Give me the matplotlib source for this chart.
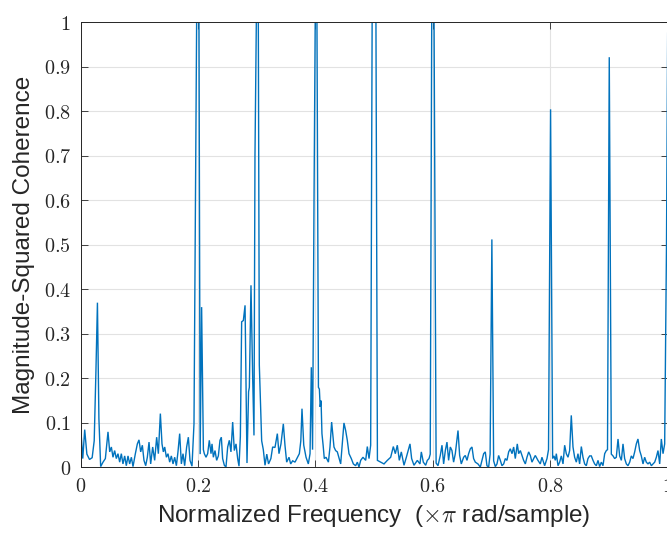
import matplotlib
matplotlib.use('Agg')
import matplotlib.pyplot as plt

# Frequency (x pi rad/sample) and magnitude-squared coherence
freq = [
    0.0000, 0.0035, 0.0068, 0.0105, 0.0150, 0.0195, 0.0230, 0.0260, 0.0285, 0.0310,
    0.0340, 0.0380, 0.0420, 0.0465, 0.0494, 0.0522, 0.0550, 0.0578, 0.0607, 0.0635,
    0.0664, 0.0692, 0.0720, 0.0749, 0.0777, 0.0806, 0.0834, 0.0863, 0.0891, 0.0931,
    0.0965, 0.0993, 0.1022, 0.1050, 0.1078, 0.1107, 0.1135, 0.1164, 0.1192, 0.1226,
    0.1260, 0.1294, 0.1323, 0.1357, 0.1385, 0.1408, 0.1431, 0.1460, 0.1487, 0.1516,
    0.1544, 0.1573, 0.1601, 0.1630, 0.1657, 0.1686, 0.1715, 0.1743, 0.1771, 0.1805,
    0.1834, 0.1862, 0.1896, 0.1930, 0.1975, 0.2015, 0.2035, 0.2060, 0.2090,
    0.2106, 0.2135, 0.2163, 0.2191, 0.2220, 0.2237, 0.2260, 0.2288, 0.2316, 0.2345,
    0.2373, 0.2396, 0.2418, 0.2447, 0.2475, 0.2504, 0.2532, 0.2560, 0.2589, 0.2617,
    0.2646, 0.2674, 0.2697, 0.2720, 0.2742, 0.2771, 0.2800, 0.2833, 0.2860, 0.2873,
    0.2901, 0.2930, 0.2952, 0.2969, 0.2992, 0.3026, 0.3043, 0.3083, 0.3111, 0.3140,
    0.3170, 0.3200, 0.3240, 0.3270, 0.3310, 0.3350, 0.3378, 0.3412, 0.3452, 0.3480,
    0.3509, 0.3549, 0.3577, 0.3611, 0.3651, 0.3679, 0.3725, 0.3750, 0.3770, 0.3800,
    0.3839, 0.3878, 0.3907, 0.3929, 0.3950, 0.3975, 0.3995, 0.4025, 0.4050, 0.4066,
    0.4080, 0.4095, 0.4110, 0.4130, 0.4150, 0.4180, 0.4220, 0.4247, 0.4275, 0.4315,
    0.4343, 0.4372, 0.4429, 0.4485, 0.4514, 0.4542, 0.4571, 0.4610, 0.4645, 0.4684,
    0.4713, 0.4741, 0.4770, 0.4809, 0.4855, 0.4883, 0.4912, 0.4940, 0.4965, 0.5030,
    0.5055, 0.5110, 0.5167, 0.5224, 0.5281, 0.5326, 0.5360, 0.5394, 0.5428, 0.5462,
    0.5508, 0.5548, 0.5610, 0.5638, 0.5678, 0.5735, 0.5780, 0.5803, 0.5837, 0.5877,
    0.5905, 0.5934, 0.5955, 0.5980, 0.6020, 0.6055, 0.6087, 0.6126, 0.6155, 0.6183,
    0.6212, 0.6240, 0.6268, 0.6297, 0.6325, 0.6353, 0.6382, 0.6428, 0.6456, 0.6484,
    0.6524, 0.6552, 0.6581, 0.6609, 0.6638, 0.6666, 0.6694, 0.6723, 0.6768, 0.6808,
    0.6836, 0.6865, 0.6893, 0.6921, 0.6950, 0.6975, 0.7005, 0.7035, 0.7064, 0.7092,
    0.7120, 0.7149, 0.7177, 0.7206, 0.7234, 0.7262, 0.7291, 0.7319, 0.7348, 0.7376,
    0.7404, 0.7438, 0.7461, 0.7490, 0.7518, 0.7546, 0.7575, 0.7603, 0.7632, 0.7660,
    0.7688, 0.7717, 0.7745, 0.7790, 0.7830, 0.7858, 0.7904, 0.7944, 0.7970, 0.8005,
    0.8040, 0.8063, 0.8086, 0.8103, 0.8132, 0.8160, 0.8188, 0.8217, 0.8245, 0.8273,
    0.8302, 0.8330, 0.8358, 0.8387, 0.8415, 0.8444, 0.8472, 0.8500, 0.8529, 0.8557,
    0.8586, 0.8614, 0.8642, 0.8671, 0.8699, 0.8728, 0.8756, 0.8785, 0.8813, 0.8841,
    0.8870, 0.8898, 0.8927, 0.8955, 0.8975, 0.9005, 0.9040, 0.9069, 0.9097, 0.9125,
    0.9154, 0.9182, 0.9211, 0.9239, 0.9267, 0.9296, 0.9324, 0.9353, 0.9381, 0.9409,
    0.9438, 0.9466, 0.9494, 0.9523, 0.9551, 0.9580, 0.9608, 0.9636, 0.9665, 0.9693,
    0.9722, 0.9750, 0.9779, 0.9807, 0.9835, 0.9864, 0.9892, 0.9921, 0.9949, 0.9980,
    1.0000,
]
coh = [
    0.090, 0.020, 0.085, 0.030, 0.018, 0.022, 0.060, 0.220, 0.370, 0.110,
    0.002, 0.012, 0.020, 0.080, 0.035, 0.046, 0.023, 0.038, 0.020, 0.031,
    0.012, 0.031, 0.008, 0.026, 0.004, 0.026, 0.008, 0.023, 0.002, 0.031,
    0.053, 0.062, 0.035, 0.050, 0.016, 0.004, 0.023, 0.057, 0.008, 0.046,
    0.016, 0.068, 0.031, 0.121, 0.053, 0.035, 0.046, 0.023, 0.031, 0.012,
    0.026, 0.008, 0.023, 0.004, 0.035, 0.076, 0.008, 0.031, 0.004, 0.046,
    0.068, 0.016, 0.003, 0.098, 1.000, 1.000, 0.030, 0.360, 0.040,
    0.031, 0.023, 0.031, 0.061, 0.031, 0.053, 0.023, 0.038, 0.016, 0.026,
    0.061, 0.068, 0.020, 0.005, 0.001, 0.046, 0.061, 0.035, 0.102, 0.038,
    0.053, 0.020, 0.003, 0.070, 0.327, 0.330, 0.364, 0.010, 0.170, 0.180,
    0.409, 0.200, 0.072, 0.700, 1.000, 1.000, 0.230, 0.060, 0.040, 0.005,
    0.030, 0.008, 0.020, 0.046, 0.045, 0.076, 0.031, 0.053, 0.098, 0.050,
    0.012, 0.023, 0.008, 0.015, 0.012, 0.019, 0.031, 0.060, 0.132, 0.050,
    0.023, 0.008, 0.031, 0.225, 0.040, 0.600, 1.000, 1.000, 0.180, 0.176,
    0.136, 0.150, 0.076, 0.050, 0.020, 0.023, 0.012, 0.046, 0.102, 0.046,
    0.038, 0.035, 0.008, 0.100, 0.083, 0.061, 0.031, 0.020, 0.008, 0.004,
    0.012, 0.001, 0.016, 0.023, 0.016, 0.047, 0.020, 0.050, 1.000, 1.000,
    0.016, 0.012, 0.008, 0.016, 0.023, 0.047, 0.031, 0.050, 0.016, 0.035,
    0.005, 0.023, 0.053, 0.020, 0.005, 0.016, 0.008, 0.035, 0.012, 0.005,
    0.016, 0.020, 0.030, 1.000, 1.000, 0.010, 0.004, 0.027, 0.050, 0.008,
    0.038, 0.057, 0.016, 0.046, 0.038, 0.012, 0.031, 0.083, 0.027, 0.008,
    0.023, 0.027, 0.016, 0.031, 0.042, 0.046, 0.020, 0.012, 0.008, 0.001,
    0.016, 0.031, 0.035, 0.004, 0.001, 0.030, 0.512, 0.015, 0.002, 0.008,
    0.027, 0.016, 0.004, 0.008, 0.020, 0.016, 0.035, 0.042, 0.031, 0.046,
    0.020, 0.053, 0.031, 0.038, 0.027, 0.016, 0.008, 0.023, 0.035, 0.027,
    0.012, 0.020, 0.027, 0.016, 0.008, 0.023, 0.004, 0.020, 0.040, 0.804,
    0.020, 0.026, 0.016, 0.031, 0.004, 0.012, 0.026, 0.008, 0.050, 0.031,
    0.023, 0.038, 0.117, 0.046, 0.023, 0.012, 0.031, 0.008, 0.047, 0.023,
    0.008, 0.004, 0.020, 0.026, 0.026, 0.016, 0.008, 0.004, 0.016, 0.002,
    0.012, 0.004, 0.031, 0.038, 0.040, 0.921, 0.030, 0.026, 0.020, 0.023,
    0.064, 0.026, 0.016, 0.053, 0.020, 0.008, 0.004, 0.012, 0.026, 0.020,
    0.035, 0.053, 0.064, 0.038, 0.026, 0.008, 0.023, 0.012, 0.008, 0.012,
    0.004, 0.008, 0.012, 0.023, 0.038, 0.008, 0.064, 0.031, 0.053, 0.500,
    0.975,
]

xticks = [0, 0.2, 0.4, 0.6, 0.8, 1]
xticklabels = ['0', '0.2', '0.4', '0.6', '0.8', '1']
yticks = [0, 0.1, 0.2, 0.3, 0.4, 0.5, 0.6, 0.7, 0.8, 0.9, 1]
yticklabels = ['0', '0.1', '0.2', '0.3', '0.4', '0.5', '0.6', '0.7', '0.8', '0.9', '1']

plt.rcParams['mathtext.fontset'] = 'cm'

fig = plt.figure(figsize=(6.67, 5.33), dpi=100)
ax = fig.add_axes([0.121, 0.1229, 0.880, 0.8358])

ax.plot(freq, coh, color='#0072BD', lw=1.0, solid_joinstyle='miter')

ax.set_xlim(0, 1)
ax.set_ylim(0, 1)
ax.set_xticks(xticks)
ax.set_xticklabels(['$' + t + '$' for t in xticklabels])
ax.set_yticks(yticks)
ax.set_yticklabels(['$' + t + '$' for t in yticklabels])

ax.grid(True, color='#e2e2e2', lw=0.8)
ax.set_axisbelow(True)
ax.tick_params(direction='in', top=True, right=True, length=5, width=0.6,
               color='#262626', labelcolor='#262626', labelsize=14.5, pad=7)
for sp in ax.spines.values():
    sp.set_color('#262626')
    sp.set_linewidth(0.7)

ax.set_xlabel(r'Normalized Frequency  ($\times\pi$ rad/sample)',
              fontsize=17.5, family='Liberation Sans', color='#262626', labelpad=5)
ax.set_ylabel('Magnitude-Squared Coherence',
              fontsize=17.5, family='Liberation Sans', color='#262626', labelpad=6)

fig.savefig('out.png', dpi=100)
